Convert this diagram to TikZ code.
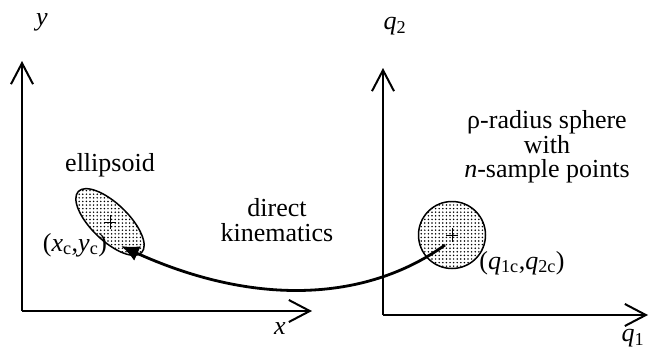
\documentclass[tikz,border=0pt]{standalone}
\usepackage{fontspec}
\setmainfont{Liberation Serif}
\usetikzlibrary{arrows.meta,shapes.geometric,patterns}

\pgfdeclarepatternformonly{densedots}{\pgfqpoint{-1pt}{-1pt}}{\pgfqpoint{1pt}{1pt}}{\pgfqpoint{3.6pt}{3.6pt}}{%
  \pgfpathcircle{\pgfqpoint{0pt}{0pt}}{0.85pt}\pgfusepath{fill}}

\tikzset{
  axis/.style={line width=2pt, -{Straight Barb[length=21pt,width=22pt,line width=2pt]}},
  kin/.style={line width=2.8pt, -{Latex[length=18pt,width=16pt]}},
  lbl/.style={font=\fontsize{26}{24.5}\selectfont, inner sep=0pt, align=center},
  blob/.style={draw, line width=1.5pt, pattern=densedots, inner sep=0pt}
}

\begin{document}
\begin{tikzpicture}[x=1pt,y=1pt]
        \useasboundingbox (0,0) rectangle (651,349);

        % 1. Cartesian axes (x and y)
        \coordinate (O1) at (22,38);
        \coordinate (Y1) at (22,288);
        \coordinate (X1) at (312,38);
        \draw[axis] (O1) -- (Y1);
        \draw[axis] (O1) -- (X1);
        \node[lbl] (ylab) at (42,327) {\textit{y}};
        \node[lbl] (xlab) at (280,20) {\textit{x}};

        % 2. Joint axes (q1 and q2)
        \coordinate (O2) at (383,34);
        \coordinate (Y2) at (383,281);
        \coordinate (X2) at (648,34);
        \draw[axis] (O2) -- (Y2);
        \draw[axis] (O2) -- (X2);
        \node[lbl] (q2lab) at (395,323) {\textit{q}\textsubscript{2}};
        \node[lbl] (q1lab) at (633,11) {\textit{q}\textsubscript{1}};

        % 3. Ellipsoid in the task space
        \node[blob, ellipse, minimum width=88pt, minimum height=37pt, rotate=-44] (ell) at (110,127) {};
        \draw[line width=1pt] (ell.center) +(-6,0) -- +(6,0) (ell.center) +(0,-7) -- +(0,7);
        \node[lbl] (elllab) at (110,184) {ellipsoid};
        \node[lbl] (xclab) at (75,104) {(\textit{x}\textsubscript{c},\textit{y}\textsubscript{c})};

        % 4. Sphere in the joint space
        \node[blob, circle, minimum size=67pt] (sph) at (452,114) {};
        \draw[line width=1pt] (sph.center) +(-6,0) -- +(6,0) (sph.center) +(0,-7) -- +(0,7);
        \node[lbl] (sphlab) at (547,202) {ρ-radius sphere\\with\\\textit{n}-sample points};
        \node[lbl] (qclab) at (522,86) {(\textit{q}\textsubscript{1c},\textit{q}\textsubscript{2c})};

        % 5. Mapping by direct kinematics
        \coordinate (qs) at (445,104);
        \coordinate (xe) at (121,103);
        \draw[kin] (qs) .. controls (370,50) and (260,40) .. (xe);
        \node[lbl] (kinlab) at (277,129) {direct\\kinematics};

    \end{tikzpicture}
\end{document}
